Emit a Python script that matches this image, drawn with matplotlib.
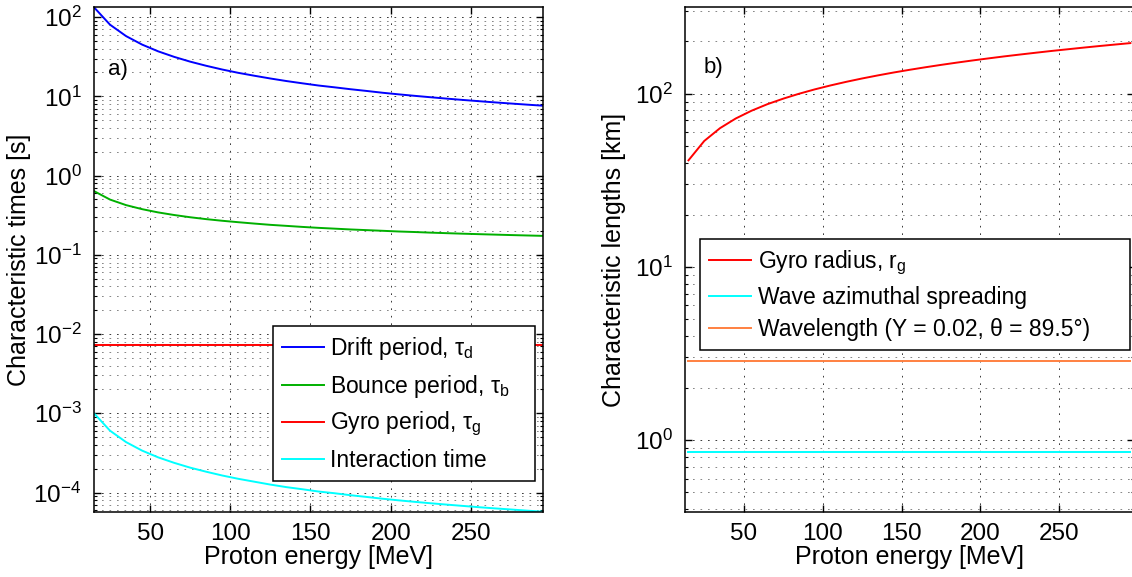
import matplotlib
matplotlib.use('Agg')
import matplotlib.pyplot as plt
import numpy as np
from matplotlib.ticker import LogLocator, FixedLocator, LogFormatterMathtext, NullFormatter
from matplotlib.transforms import IdentityTransform

plt.rcParams['font.family'] = ['Liberation Sans', 'DejaVu Sans']
plt.rcParams['mathtext.fontset'] = 'custom'
plt.rcParams['mathtext.rm'] = 'Liberation Sans'
plt.rcParams['mathtext.it'] = 'Liberation Sans:italic'
plt.rcParams['mathtext.bf'] = 'Liberation Sans:bold'

# proton energy [MeV]
energy = [15, 25, 35, 45, 55, 65, 75, 85, 95, 105, 115, 125, 135, 145, 155,
          165, 175, 185, 195, 205, 215, 225, 235, 245, 255, 265, 275, 285, 295]

# panel a) characteristic times [s]
drift_period = [133.0, 80.2, 57.6, 45.0, 37.0, 31.5, 27.4, 24.3, 21.8, 19.8, 18.2, 16.8,
                15.6, 14.6, 13.7, 13.0, 12.3, 11.7, 11.1, 10.6, 10.15, 9.74, 9.36, 9.01,
                8.69, 8.39, 8.12, 7.86, 7.62]
bounce_period = [0.637, 0.498, 0.424, 0.377, 0.343, 0.318, 0.298, 0.282, 0.269, 0.258,
                 0.248, 0.239, 0.232, 0.225, 0.219, 0.214, 0.209, 0.205, 0.201, 0.197,
                 0.194, 0.1905, 0.1876, 0.1848, 0.1823, 0.1799, 0.1776, 0.1755, 0.1735]
gyro_period = [0.00724] * len(energy)
interaction_time = [1.0e-3, 6.03e-4, 4.33e-4, 3.38e-4, 2.78e-4, 2.37e-4, 2.06e-4, 1.83e-4,
                    1.64e-4, 1.49e-4, 1.37e-4, 1.26e-4, 1.17e-4, 1.10e-4, 1.03e-4, 9.8e-5,
                    9.25e-5, 8.8e-5, 8.35e-5, 7.97e-5, 7.63e-5, 7.32e-5, 7.04e-5, 6.78e-5,
                    6.53e-5, 6.31e-5, 6.11e-5, 5.91e-5, 5.73e-5]

# panel b) characteristic lengths [km]
gyro_radius = [41.2, 53.3, 63.2, 71.9, 79.7, 86.9, 93.5, 99.8, 105.8, 111.5, 117.0, 122.3,
               127.4, 132.4, 137.2, 141.9, 146.5, 151.0, 155.4, 159.7, 164.0, 168.1, 172.2,
               176.3, 180.2, 184.2, 188.1, 191.9, 195.7]
azimuthal_spreading = [0.849] * len(energy)
wavelength = [2.86] * len(energy)

x_ticks = [50, 100, 150, 200, 250]
y_ticks_a = [1e-4, 1e-3, 1e-2, 1e-1, 1e0, 1e1, 1e2]
y_ticks_b = [1e0, 1e1, 1e2]

W, H = 1132, 577
fig = plt.figure(figsize=(W / 100, H / 100), dpi=100)
ax1 = fig.add_axes([94 / W, (H - 511.7) / H, 449 / W, 504.4 / H])
ax2 = fig.add_axes([685 / W, (H - 511.7) / H, 449 / W, 504.4 / H])

FS = 17.5


def style_axes(ax, yticks):
    ax.set_yscale('log')
    ax.xaxis.set_major_locator(FixedLocator(x_ticks))
    ax.yaxis.set_major_locator(FixedLocator(yticks))
    ax.yaxis.set_minor_locator(LogLocator(base=10, subs=np.arange(2, 10), numticks=20))
    ax.yaxis.set_major_formatter(LogFormatterMathtext())
    ax.yaxis.set_minor_formatter(NullFormatter())
    ax.tick_params(which='both', direction='in', top=True, right=True, labelsize=FS)
    ax.tick_params(axis='y', pad=9)
    ax.tick_params(axis='x', pad=8)
    ax.tick_params(which='major', length=5, width=1)
    ax.tick_params(which='minor', length=2.5, width=0.8)
    ax.grid(True, which='major', axis='both', ls=(0, (2, 7)), lw=0.6, color='0.1')
    ax.grid(True, which='minor', axis='y', ls=(0, (2, 7)), lw=0.6, color='0.45')
    for s in ax.spines.values():
        s.set_linewidth(1.1)
    ax.set_xlabel('Proton energy [MeV]', fontsize=18, labelpad=0)


def legend_style(ax, **kw):
    leg = ax.legend(mode='expand', fontsize=16.5, fancybox=False, framealpha=1, edgecolor='k',
                    handlelength=1.8, handletextpad=0.3, borderpad=0.4, borderaxespad=0, **kw)
    leg.get_frame().set_linewidth(1.1)
    return leg


# a) times
style_axes(ax1, y_ticks_a)
ax1.plot(energy, drift_period, color='#0000ff', lw=1.4, label=r'Drift period, τ$_\mathrm{d}$')
ax1.plot(energy, bounce_period, color='#00b000', lw=1.4, label=r'Bounce period, τ$_\mathrm{b}$')
ax1.plot(energy, gyro_period, color='#ff0000', lw=1.4, label=r'Gyro period, τ$_\mathrm{g}$')
ax1.plot(energy, interaction_time, color='#00ffff', lw=1.4, label='Interaction time')
ax1.set_xlim(15, 295)
ax1.set_ylim(5.73e-5, 133)
ax1.set_ylabel('Characteristic times [s]', fontsize=18)
ax1.yaxis.set_label_coords(-(94 - 31) / 449, 0.5)
ax1.text(108, H - 70, 'a)', fontsize=16, transform=IdentityTransform(), va='center', ha='left')
legend_style(ax1, loc='lower left', bbox_to_anchor=(0.399, 0.061, 0.583, 0.313),
             labelspacing=0.45)

# b) lengths
style_axes(ax2, y_ticks_b)
ax2.plot(energy, gyro_radius, color='#ff0000', lw=1.4, label=r'Gyro radius, r$_\mathrm{g}$')
ax2.plot(energy, azimuthal_spreading, color='#00ffff', lw=1.4, label='Wave azimuthal spreading')
ax2.plot(energy, wavelength, color='#ff8040', lw=1.4, label='Wavelength (Y = 0.02, θ = 89.5°)')
ax2.set_xlim(12.8, 297.3)
ax2.set_ylim(0.386, 315)
ax2.set_ylabel('Characteristic lengths [km]', fontsize=18)
ax2.yaxis.set_label_coords(-(685 - 626) / 449, 0.5)
ax2.text(704, H - 68, 'b)', fontsize=16, transform=IdentityTransform(), va='center', ha='left')
legend_style(ax2, loc='upper left', bbox_to_anchor=(0.034, 0.540, 0.957, 0.0),
             labelspacing=0.4)

fig.savefig('out.png', dpi=100)
